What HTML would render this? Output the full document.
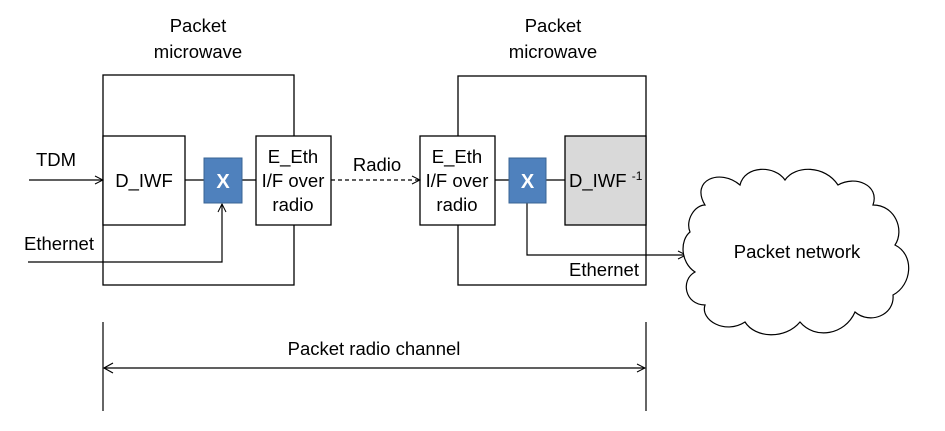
<!DOCTYPE html>
<html><head><meta charset="utf-8"><style>
html,body{margin:0;padding:0;background:#fff;}
svg{display:block;}
text{font-family:"Liberation Sans",sans-serif;font-size:18.5px;fill:#000;}
</style></head><body>
<svg width="945" height="431" viewBox="0 0 945 431" xmlns="http://www.w3.org/2000/svg">
<defs>
<marker id="a" markerWidth="10" markerHeight="10" refX="9" refY="5" orient="auto" markerUnits="userSpaceOnUse">
<path d="M1,1 L9,5 L1,9" fill="none" stroke="#000" stroke-width="1"/></marker>
</defs>
<g stroke="#000" stroke-width="1.3" fill="none">
<rect x="103" y="75" width="191" height="210"/>
<rect x="458" y="76" width="188" height="209"/>
</g>
<g stroke="#000" stroke-width="1.3">
<rect x="103" y="136" width="82" height="89" fill="#fff"/>
<rect x="256" y="136" width="75" height="89" fill="#fff"/>
<rect x="420" y="136" width="75" height="89" fill="#fff"/>
<rect x="565" y="136" width="81" height="89" fill="#d9d9d9"/>
<line x1="185" y1="180" x2="204" y2="180"/>
<line x1="242" y1="180" x2="256" y2="180"/>
<line x1="495" y1="180" x2="509" y2="180"/>
<line x1="546" y1="180" x2="565" y2="180"/>
</g>
<g stroke="#000" stroke-width="1.2" fill="none">
<line x1="29" y1="180" x2="103" y2="180" marker-end="url(#a)"/>
<polyline points="28,262 222,262 222,204" marker-end="url(#a)"/>
<line x1="331" y1="180" x2="420" y2="180" stroke-dasharray="4,3" marker-end="url(#a)"/>
<polyline points="527,203 527,255 686,255" marker-end="url(#a)"/>
<line x1="103" y1="322" x2="103" y2="411"/>
<line x1="646" y1="322" x2="646" y2="411"/>
<line x1="104" y1="368" x2="645" y2="368" marker-end="url(#a)"/>
<path d="M113,363 L104,368 L113,373"/>
</g>
<rect x="204" y="158" width="38" height="45" fill="#4f81bd" stroke="#3a6494" stroke-width="1"/>
<rect x="509" y="158" width="37" height="45" fill="#4f81bd" stroke="#3a6494" stroke-width="1"/>
<text x="223" y="188" text-anchor="middle" style="fill:#fff;font-weight:bold;font-size:20px">X</text>
<text x="527.5" y="188" text-anchor="middle" style="fill:#fff;font-weight:bold;font-size:20px">X</text>
<path d="M705,205 C690,180 720,168 740,185 C745,165 775,165 785,180 C795,165 825,165 838,185 C855,175 880,185 873,205 C895,205 905,230 895,245 C915,255 912,285 893,295 C895,315 870,325 855,312 C845,335 815,340 800,322 C785,340 755,338 745,322 C725,335 700,320 705,305 C685,305 680,280 695,272 C680,262 680,240 690,232 C685,220 695,205 705,205 Z" fill="#fff" stroke="#000" stroke-width="1.2"/>
<text x="198" y="32" text-anchor="middle">Packet</text>
<text x="198" y="58" text-anchor="middle">microwave</text>
<text x="553" y="32" text-anchor="middle">Packet</text>
<text x="553" y="58" text-anchor="middle">microwave</text>
<text x="56" y="166" text-anchor="middle">TDM</text>
<text x="59" y="250" text-anchor="middle">Ethernet</text>
<text x="144" y="187" text-anchor="middle">D_IWF</text>
<text x="293" y="163" text-anchor="middle">E_Eth</text>
<text x="293" y="187" text-anchor="middle">I/F over</text>
<text x="293" y="211" text-anchor="middle">radio</text>
<text x="457" y="163" text-anchor="middle">E_Eth</text>
<text x="457" y="187" text-anchor="middle">I/F over</text>
<text x="457" y="211" text-anchor="middle">radio</text>
<text x="377" y="171" text-anchor="middle">Radio</text>
<text x="569" y="187">D_IWF <tspan style="font-size:12px" dy="-7">-1</tspan></text>
<text x="604" y="276" text-anchor="middle">Ethernet</text>
<text x="797" y="258" text-anchor="middle">Packet network</text>
<text x="374" y="355" text-anchor="middle">Packet radio channel</text>
</svg>
</body></html>
